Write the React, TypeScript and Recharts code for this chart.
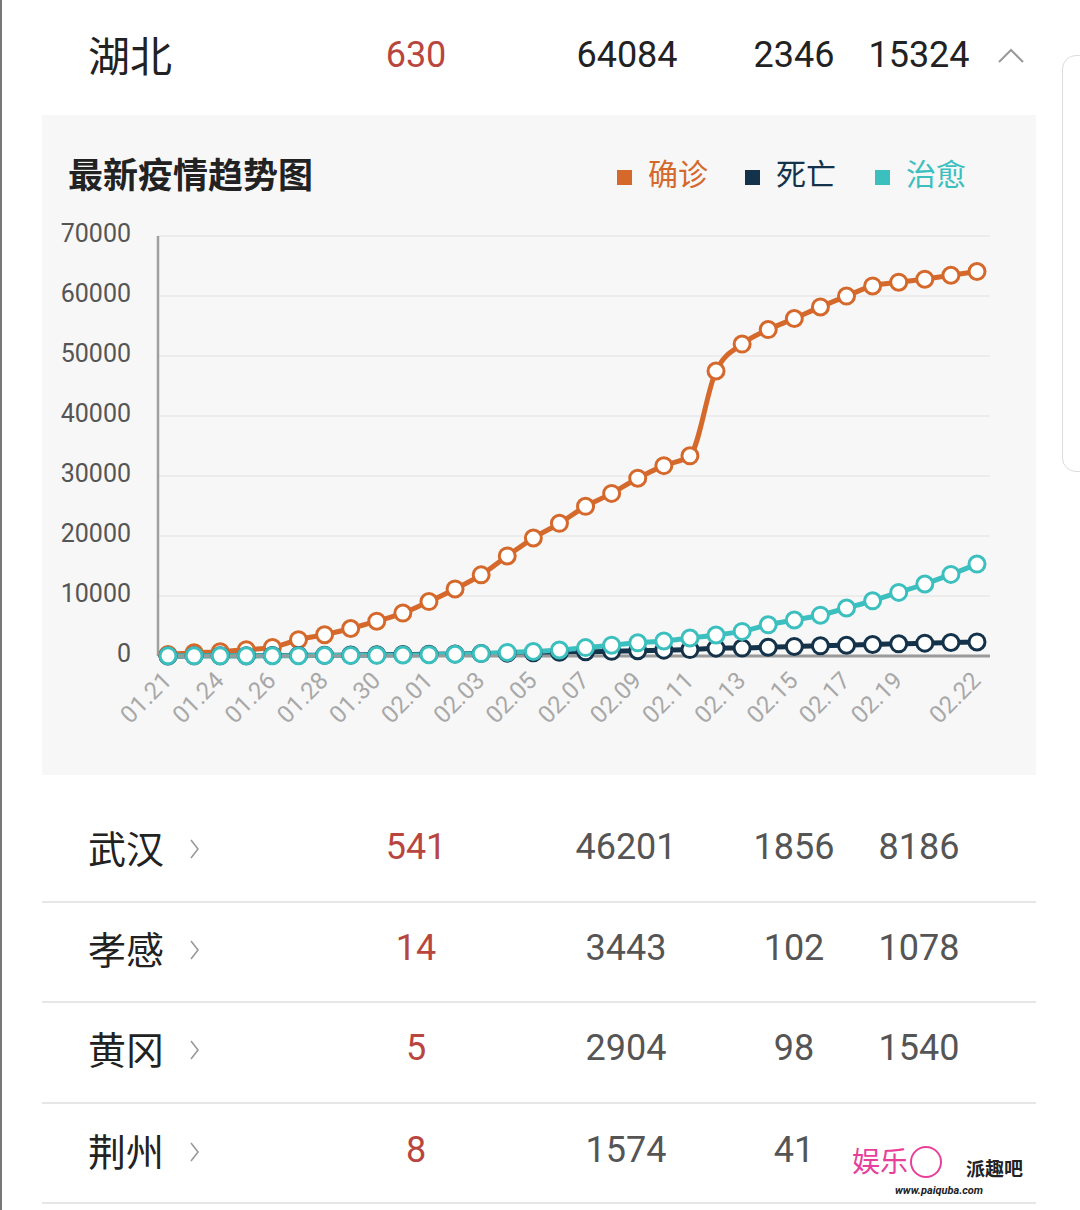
import React from 'react';
import { LineChart, Line, XAxis, YAxis, CartesianGrid } from 'recharts';

// x categories (01.22 absent in the source data)
const dates = [
  '01.21', '01.23', '01.24', '01.25', '01.26', '01.27', '01.28', '01.29', '01.30', '01.31',
  '02.01', '02.02', '02.03', '02.04', '02.05', '02.06', '02.07', '02.08', '02.09', '02.10',
  '02.11', '02.12', '02.13', '02.14', '02.15', '02.16', '02.17', '02.18', '02.19', '02.20',
  '02.21', '02.22',
];
const confirmed = [
  270, 549, 729, 1052, 1423, 2714, 3554, 4586, 5806, 7153,
  9074, 11177, 13522, 16678, 19665, 22112, 24953, 27100, 29631, 31728,
  33366, 47500, 51986, 54406, 56249, 58182, 59989, 61682, 62300, 62800,
  63454, 64084,
];
const deaths = [
  9, 24, 39, 52, 76, 100, 125, 162, 204, 249,
  294, 350, 414, 479, 549, 618, 699, 780, 871, 974,
  1068, 1310, 1318, 1457, 1596, 1696, 1789, 1921, 2029, 2144,
  2250, 2346,
];
const cured = [
  25, 30, 32, 42, 44, 47, 80, 90, 116, 166,
  215, 295, 396, 600, 750, 1000, 1400, 1800, 2200, 2500,
  3000, 3500, 4100, 5200, 6000, 6800, 8000, 9200, 10600, 12000,
  13600, 15324,
];
const xTickLabels = [
  '01.21', '01.24', '01.26', '01.28', '01.30', '02.01', '02.03', '02.05', '02.07',
  '02.09', '02.11', '02.13', '02.15', '02.17', '02.19', '02.22',
];
const yTicks = [0, 10000, 20000, 30000, 40000, 50000, 60000, 70000];

const seriesNames = ['确诊', '死亡', '治愈'];
const seriesKeys = ['confirmed', 'deaths', 'cured'];
const seriesColors = ['#d5692b', '#14324a', '#3cbfbf'];

const provinceName = '湖北';
const provinceValues = [630, 64084, 2346, 15324];

const cityNames = ['武汉', '孝感', '黄冈', '荆州'];
const cityAdded = [541, 14, 5, 8];
const cityConfirmed = [46201, 3443, 2904, 1574];
const cityDeaths = [1856, 102, 98, 41];
const cityCured = ['8186', '1078', '1540', ''];

const chartData = dates.map((d, i) => ({
  date: d,
  confirmed: confirmed[i],
  deaths: deaths[i],
  cured: cured[i],
}));

const FONT = 'Roboto, "Noto Sans CJK SC", sans-serif';
const CJK = '"Noto Sans CJK SC", Roboto, sans-serif';

function Txt({ x, y, children, size, color, weight, family, anchor }: any) {
  const tx = anchor === 'start' ? '0' : '-50%';
  return (
    <div
      style={{
        position: 'absolute',
        left: x,
        top: y,
        transform: `translate(${tx}, -50%)`,
        fontSize: size,
        color,
        fontWeight: weight || 400,
        fontFamily: family || FONT,
        whiteSpace: 'nowrap',
        lineHeight: 1,
      }}
    >
      {children}
    </div>
  );
}

function DateTick({ x, y, payload }: any) {
  if (!xTickLabels.includes(payload.value)) return <g />;
  const ax = x + 5;
  const ay = y + 26;
  return (
    <text
      x={ax}
      y={ay}
      textAnchor="end"
      transform={`rotate(-45 ${ax} ${ay})`}
      fill="#a8a8a8"
      fontSize={24}
      fontFamily={FONT}
    >
      {payload.value}
    </text>
  );
}

function ValueTick({ x, y, payload }: any) {
  return (
    <text x={x} y={y - 3} dy="0.355em" textAnchor="end" fill="#555" fontSize={25} fontFamily={FONT}>
      {payload.value}
    </text>
  );
}

function Chevron({ x, y }: any) {
  return (
    <svg style={{ position: 'absolute', left: x, top: y }} width={12} height={24}>
      <polyline points="2,3 9,12 2,21" fill="none" stroke="#999" strokeWidth={1.6} />
    </svg>
  );
}

export default function App() {
  const rowY = [847, 948, 1048, 1150];
  const sepY = [901, 1001, 1102, 1202];
  return (
    <div
      style={{
        position: 'fixed',
        left: 0,
        top: 0,
        width: 1080,
        height: 1210,
        background: '#fff',
        overflow: 'hidden',
      }}
    >
      <div style={{ position: 'absolute', left: 0, top: 0, width: 2, height: 1210, background: '#777' }} />
      <div
        style={{
          position: 'absolute',
          left: 1062,
          top: 55,
          width: 40,
          height: 415,
          border: '1px solid #ddd',
          borderRadius: 14,
        }}
      />

      {/* province row */}
      <Txt x={88} y={54} size={42} color="#222" family={CJK} anchor="start">{provinceName}</Txt>
      <Txt x={416} y={55} size={36} color="#b8463e">{provinceValues[0]}</Txt>
      <Txt x={627} y={55} size={36} color="#222">{provinceValues[1]}</Txt>
      <Txt x={794} y={55} size={36} color="#222">{provinceValues[2]}</Txt>
      <Txt x={919} y={55} size={36} color="#222">{provinceValues[3]}</Txt>
      <svg style={{ position: 'absolute', left: 996, top: 46 }} width={32} height={20}>
        <polyline points="3,16 15,4 27,16" fill="none" stroke="#999" strokeWidth={2} />
      </svg>

      {/* chart card */}
      <div style={{ position: 'absolute', left: 42, top: 115, width: 994, height: 660, background: '#f7f7f7' }} />
      <Txt x={68} y={172} size={35} color="#222" weight={700} family={CJK} anchor="start">最新疫情趋势图</Txt>
      {seriesNames.map((n, i) => {
        const sx = [617, 745, 875][i];
        return (
          <React.Fragment key={n}>
            <div style={{ position: 'absolute', left: sx, top: 170, width: 15, height: 15, background: seriesColors[i] }} />
            <Txt x={sx + 31} y={172} size={30} color={seriesColors[i]} family={CJK} anchor="start">{n}</Txt>
          </React.Fragment>
        );
      })}

      <div style={{ position: 'absolute', left: 0, top: 0 }}>
        <LineChart
          width={1080}
          height={780}
          data={chartData}
          margin={{ top: 236, right: 90, bottom: 64, left: 58 }}
        >
          <CartesianGrid vertical={false} stroke="#e9e9e9" strokeWidth={1.5} />
          <XAxis
            dataKey="date"
            interval={0}
            height={60}
            tick={<DateTick />}
            tickLine={false}
            tickSize={0}
            tickMargin={0}
            axisLine={{ stroke: '#9a9a9a', strokeWidth: 3 }}
            padding={{ left: 10, right: 13 }}
          />
          <YAxis
            width={100}
            domain={[0, 70000]}
            ticks={yTicks}
            interval={0}
            tickLine={false}
            tickSize={0}
            tickMargin={27}
            axisLine={{ stroke: '#a0a0a0', strokeWidth: 2.5 }}
            tick={<ValueTick />}
          />
          {seriesKeys.map((k, i) => (
            <Line
              key={k}
              dataKey={k}
              name={seriesNames[i]}
              type="monotone"
              stroke={seriesColors[i]}
              strokeWidth={5}
              dot={{ r: 8, fill: '#fff', stroke: seriesColors[i], strokeWidth: 3 }}
              isAnimationActive={false}
            />
          ))}
        </LineChart>
      </div>

      {/* city rows */}
      {cityNames.map((n, i) => (
        <React.Fragment key={n}>
          <Txt x={88} y={rowY[i]} size={38} color="#222" family={CJK} anchor="start">{n}</Txt>
          <Chevron x={189} y={rowY[i] - 10} />
          <Txt x={416} y={rowY[i]} size={36} color="#b8463e">{cityAdded[i]}</Txt>
          <Txt x={626} y={rowY[i]} size={36} color="#555">{cityConfirmed[i]}</Txt>
          <Txt x={794} y={rowY[i]} size={36} color="#555">{cityDeaths[i]}</Txt>
          <Txt x={919} y={rowY[i]} size={36} color="#555">{cityCured[i]}</Txt>
          <div style={{ position: 'absolute', left: 42, top: sepY[i], width: 994, height: 1.5, background: '#e6e6e6' }} />
        </React.Fragment>
      ))}

      {/* watermark */}
      <Txt x={852} y={1160} size={28} color="#e8409a" family={CJK} anchor="start">娱乐</Txt>
      <div style={{ position: 'absolute', left: 910, top: 1146, width: 28, height: 28, border: '2px solid #e8409a', borderRadius: '50%' }} />
      <Txt x={966} y={1167} size={19} color="#222" weight={700} family={CJK} anchor="start">派趣吧</Txt>
      <Txt x={895} y={1190} size={11} color="#222" weight={700} family={FONT} anchor="start"><i>www.paiquba.com</i></Txt>
    </div>
  );
}
